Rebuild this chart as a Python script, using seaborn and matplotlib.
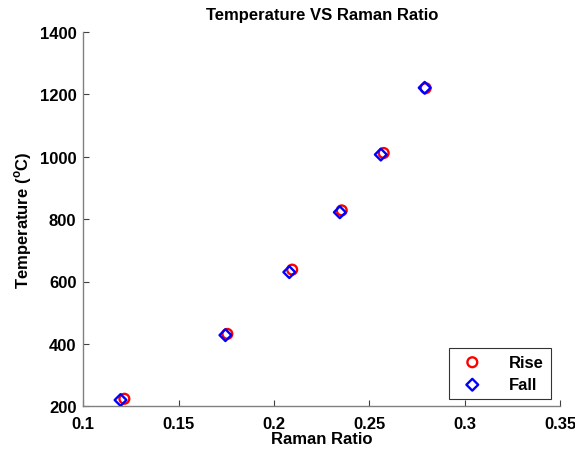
import matplotlib
matplotlib.use("Agg")
import matplotlib.pyplot as plt
import seaborn as sns
import pandas as pd

# Measured Raman ratio vs temperature, heating and cooling runs
rise_ratio = [0.1215, 0.1755, 0.2095, 0.2355, 0.2575, 0.2795]
rise_temp = [224, 432, 638, 828, 1012, 1220]
fall_ratio = [0.1195, 0.1745, 0.2080, 0.2345, 0.2560, 0.2790]
fall_temp = [220, 428, 630, 822, 1007, 1221]
series_names = ["Rise", "Fall"]

x_ticks = [0.1, 0.15, 0.2, 0.25, 0.3, 0.35]
x_tick_labels = ["0.1", "0.15", "0.2", "0.25", "0.3", "0.35"]
y_ticks = [200, 400, 600, 800, 1000, 1200, 1400]

df = pd.DataFrame({
    "ratio": rise_ratio + fall_ratio,
    "temp": rise_temp + fall_temp,
    "run": [series_names[0]] * len(rise_ratio) + [series_names[1]] * len(fall_ratio),
})

sns.set_style("white")
plt.rcParams["font.family"] = ["Liberation Sans", "DejaVu Sans"]
plt.rcParams["font.weight"] = "bold"
plt.rcParams["text.color"] = "black"
plt.rcParams["axes.labelcolor"] = "black"
plt.rcParams["mathtext.fontset"] = "custom"
plt.rcParams["mathtext.rm"] = "Liberation Sans:bold"
plt.rcParams["mathtext.bf"] = "Liberation Sans:bold"

fig = plt.figure(figsize=(5.75, 4.52), dpi=100)
ax = fig.add_axes([0.145, 0.099, 0.829, 0.828])

palette = {"Rise": "#ff0000", "Fall": "#0000ff"}
markers = {"Rise": "o", "Fall": "D"}
sizes = {"Rise": 50, "Fall": 36}
for name in series_names:
    sub = df[df["run"] == name]
    sns.scatterplot(data=sub, x="ratio", y="temp", ax=ax, marker=markers[name],
                    facecolor="none", edgecolor=palette[name], linewidth=1.7,
                    s=sizes[name], label=name, zorder=3)

ax.set_xlim(0.1, 0.35)
ax.set_ylim(200, 1400)
ax.set_xticks(x_ticks)
ax.set_xticklabels(x_tick_labels)
ax.set_yticks(y_ticks)

for side in ("top", "right"):
    ax.spines[side].set_visible(False)
for side in ("left", "bottom"):
    ax.spines[side].set_color("#808080")
    ax.spines[side].set_linewidth(1.0)

ax.tick_params(axis="both", direction="in", length=4, width=0.8, color="#404040",
               labelsize=12, left=True, bottom=True, labelcolor="black")
ax.tick_params(axis="x", pad=7)
ax.tick_params(axis="y", pad=5)
for lbl in ax.get_xticklabels() + ax.get_yticklabels():
    lbl.set_fontweight("bold")

ax.set_xlabel("Raman Ratio", fontsize=12, fontweight="bold", color="black", labelpad=0)
ax.set_ylabel(r"Temperature ($^{\mathrm{o}}$C)", fontsize=12, fontweight="bold",
              color="black", labelpad=4)
ax.set_title("Temperature VS Raman Ratio", fontsize=12, fontweight="bold",
             color="black", pad=9)

leg = ax.legend(loc="lower right", bbox_to_anchor=(0.98, 0.02), frameon=True,
                fancybox=False, edgecolor="black", fontsize=12,
                handletextpad=1.2, borderpad=0.4, labelspacing=0.45,
                markerscale=1.0, borderaxespad=0.0)
leg.get_frame().set_linewidth(0.8)
for t in leg.get_texts():
    t.set_fontweight("bold")
    t.set_color("black")

fig.savefig("out.png", dpi=100)
